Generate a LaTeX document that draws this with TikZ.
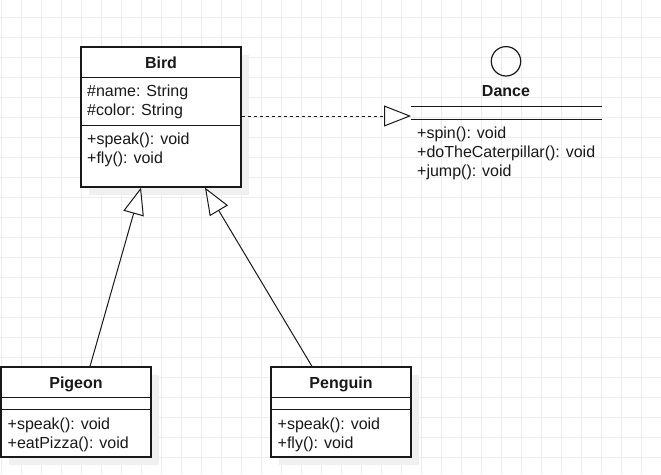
\documentclass[tikz,border=0pt]{standalone}
\usepackage{fontspec}
\setmainfont{Liberation Sans}
\usetikzlibrary{arrows.meta,shadows}
\definecolor{gridc}{RGB}{237,237,237}
\definecolor{shadowc}{RGB}{240,240,240}
\definecolor{ink}{RGB}{25,25,25}
\tikzset{
  classbox/.style={draw=ink, line width=1.2pt, fill=white, inner sep=0pt,
    general shadow={fill=shadowc, draw=none, shadow xshift=8pt, shadow yshift=-8pt}},
  member/.style={anchor=base west, inner sep=0pt, text=ink, font=\fontsize{16}{19}\selectfont},
  ctitle/.style={anchor=base, inner sep=0pt, text=ink, font=\fontsize{16}{19}\selectfont\bfseries},
  compline/.style={draw=ink, line width=1.2pt},
  genarrow/.style={draw=ink, line width=1pt, -{Triangle[open, length=27pt, width=21pt, fill=white]}},
  realarrow/.style={draw=ink, line width=1pt, dash pattern=on 3pt off 3pt, -{Triangle[open, length=27pt, width=21pt, fill=white]}}
}
\begin{document}
\begin{tikzpicture}[x=1pt, y=-1pt]
\useasboundingbox (0,0) rectangle (661,474);
\fill[white] (0,0) rectangle (661,474);
% grid
\foreach \k in {0,...,32} { \draw[gridc, line width=1pt] ({1+20*\k},0) -- ({1+20*\k},474); }
\foreach \k in {0,...,22} { \draw[gridc, line width=1pt] (0,{17+20*\k}) -- (661,{17+20*\k}); }

% Bird
\node[classbox, minimum width=160pt, minimum height=140pt] (bird) at (161,117) {};
\draw[compline] ([yshift=-31pt]bird.north west) -- ([yshift=-31pt]bird.north east);
\draw[compline] ([yshift=-79pt]bird.north west) -- ([yshift=-79pt]bird.north east);
\node[ctitle] (birdT) at (161,68.4) {Bird};
\node[member] (birdA1) at (87,96.7) {\#name: String};
\node[member] (birdA2) at (87,115.7) {\#color: String};
\node[member] (birdM1) at (87,144.5) {+speak(): void};
\node[member] (birdM2) at (87,163.5) {+fly(): void};

% Pigeon
\node[classbox, minimum width=150pt, minimum height=90pt] (pigeon) at (76,412) {};
\draw[compline] ([yshift=-31pt]pigeon.north west) -- ([yshift=-31pt]pigeon.north east);
\draw[compline] ([yshift=-43pt]pigeon.north west) -- ([yshift=-43pt]pigeon.north east);
\node[ctitle] (pigeonT) at (76,388.4) {Pigeon};
\node[member] (pigeonM1) at (7.5,429) {+speak(): void};
\node[member] (pigeonM2) at (7.5,448) {+eatPizza(): void};

% Penguin
\node[classbox, minimum width=140pt, minimum height=90pt] (penguin) at (341,412) {};
\draw[compline] ([yshift=-31pt]penguin.north west) -- ([yshift=-31pt]penguin.north east);
\draw[compline] ([yshift=-43pt]penguin.north west) -- ([yshift=-43pt]penguin.north east);
\node[ctitle] (penguinT) at (341,388.4) {Penguin};
\node[member] (penguinM1) at (277.5,429) {+speak(): void};
\node[member] (penguinM2) at (277.5,448) {+fly(): void};

% Dance (interface)
\node[draw=ink, line width=1.2pt, circle, minimum size=29.4pt, inner sep=0pt] (danceC) at (506,61.3) {};
\node[ctitle] (danceT) at (506,96.4) {Dance};
\node[inner sep=0pt, minimum width=191pt, minimum height=12pt] (dance) at (506.5,113) {};
\draw[compline] (dance.north west) -- (dance.north east);
\draw[compline] (dance.south west) -- (dance.south east);
\node[member] (danceM1) at (417,138) {+spin(): void};
\node[member] (danceM2) at (417,157) {+doTheCaterpillar(): void};
\node[member] (danceM3) at (417,176) {+jump(): void};
\coordinate (danceIn) at (411,116);

% connectors
\draw[realarrow] (bird.east |- danceIn) -- (danceIn);
\draw[genarrow] ([xshift=14pt]pigeon.north) -- ([xshift=-20pt]bird.south);
\draw[genarrow] ([xshift=-29pt]penguin.north) -- ([xshift=44pt]bird.south);
\end{tikzpicture}
\end{document}
